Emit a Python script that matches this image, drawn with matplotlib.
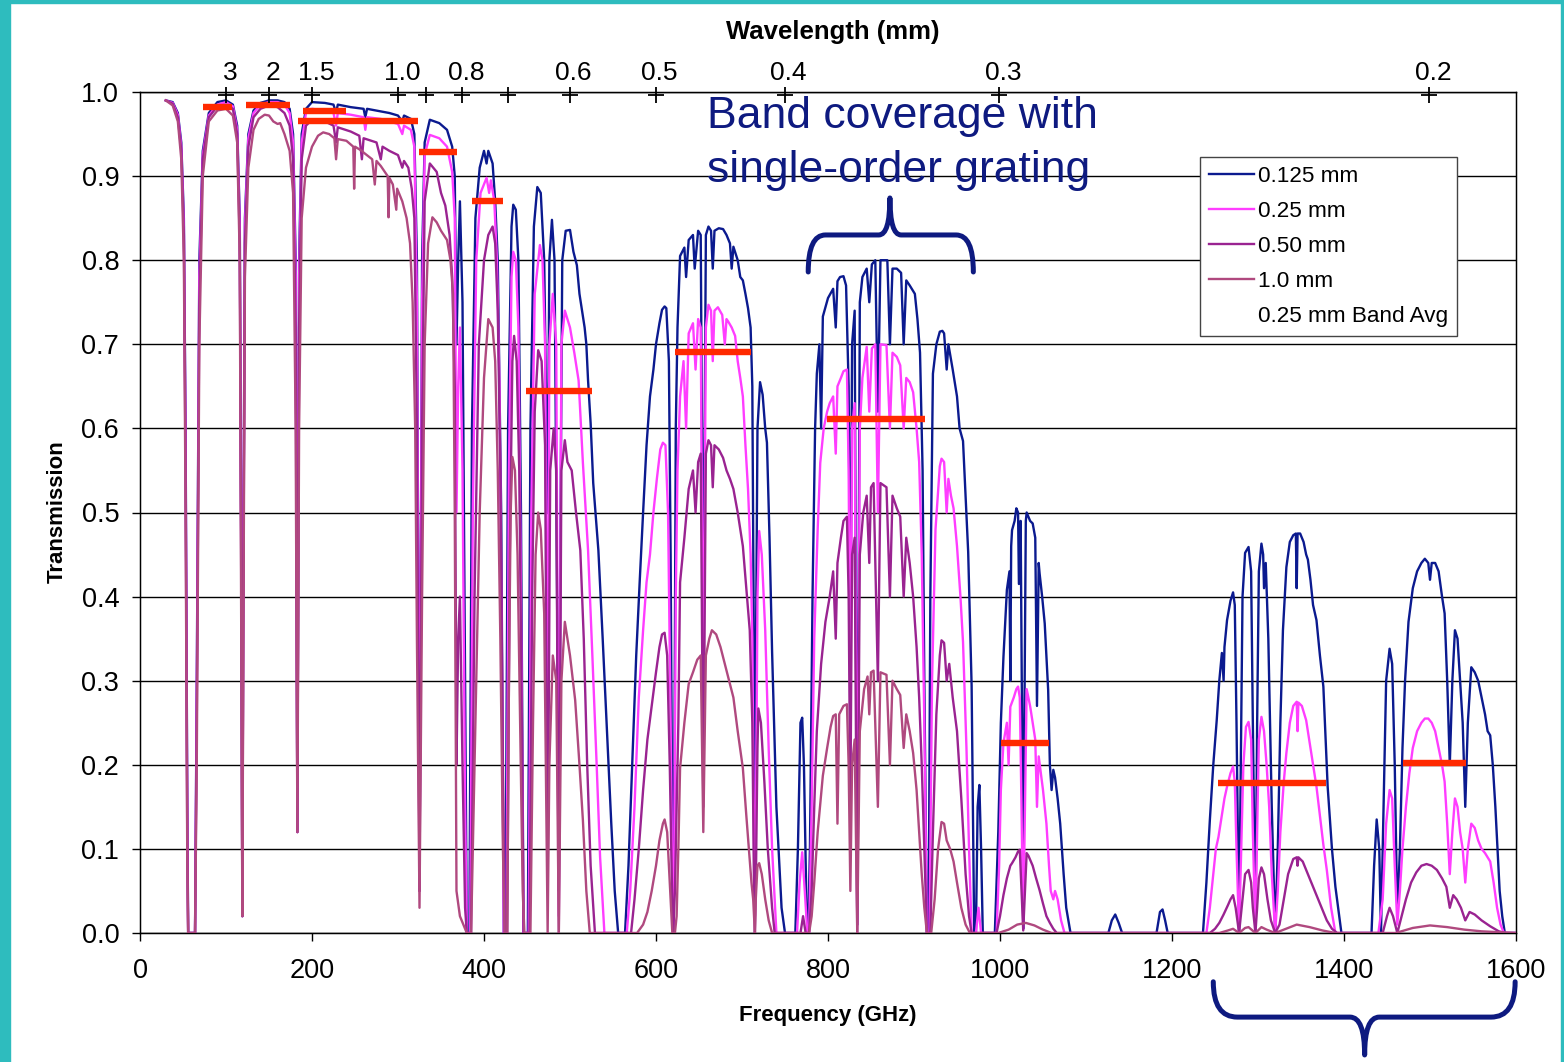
import numpy as np
import matplotlib
matplotlib.use('Agg')
import matplotlib.pyplot as plt
from matplotlib.path import Path
from matplotlib.patches import PathPatch, Rectangle
from matplotlib.lines import Line2D
from matplotlib.ticker import FormatStrFormatter
from matplotlib.transforms import ScaledTranslation

plt.rcParams['font.family'] = ['Liberation Sans', 'DejaVu Sans']

# ================================================
# transmission: (frequency GHz, transmission)

pwv_0125 = [
    (30, 0.99), (38, 0.988), (44, 0.975), (48, 0.94), (51, 0.85), (53, 0.6), (55, 0.15), (56, 0.0),
    (64, 0.0), (66, 0.3), (69, 0.8), (73, 0.93), (80, 0.975), (90, 0.988), (100, 0.99), (108, 0.985),
    (113, 0.96), (116, 0.85), (118, 0.4), (119, 0.02), (120, 0.4), (122, 0.85), (126, 0.95), (132, 0.978),
    (140, 0.987), (150, 0.99), (160, 0.99), (168, 0.988), (174, 0.98), (178, 0.95), (181, 0.8), (183, 0.12),
    (185, 0.8), (188, 0.95), (193, 0.98), (200, 0.988), (215, 0.987), (225, 0.985), (228, 0.975), (230, 0.985),
    (245, 0.982), (260, 0.98), (262, 0.97), (264, 0.98), (280, 0.977), (290, 0.975), (300, 0.972), (305, 0.965),
    (307, 0.972), (315, 0.968), (319, 0.95), (322, 0.8), (325, 0.05), (328, 0.8), (331, 0.94), (337, 0.967),
    (348, 0.963), (357, 0.955), (363, 0.935), (366, 0.9), (368, 0.7), (370, 0.8), (372, 0.87), (375, 0.75),
    (378, 0.3), (380, 0.0), (383, 0.0), (386, 0.6), (390, 0.85), (395, 0.91), (400, 0.93), (403, 0.915),
    (405, 0.93), (410, 0.915), (413, 0.87), (416, 0.8), (420, 0.5), (423, 0.0), (425, 0.0), (428, 0.6),
    (432, 0.84), (434, 0.866), (437, 0.86), (440, 0.8), (443, 0.5), (446, 0.0), (451, 0.0), (454, 0.6),
    (458, 0.84), (462, 0.887), (466, 0.88), (470, 0.8), (474, 0.5), (476, 0.8), (479, 0.848), (482, 0.8),
    (485, 0.4), (487, 0.05), (489, 0.5), (491, 0.8), (495, 0.835), (500, 0.836), (504, 0.81), (508, 0.794),
    (511, 0.76), (514, 0.74), (517, 0.72), (519, 0.70), (521, 0.657), (524, 0.606), (527, 0.535), (533, 0.455),
    (538, 0.35), (543, 0.24), (548, 0.13), (552, 0.05), (556, 0.0),
    (564, 0.0), (568, 0.08), (573, 0.22), (577, 0.33), (581, 0.417), (585, 0.5), (589, 0.58), (593, 0.638),
    (597, 0.67), (600, 0.70), (604, 0.725), (607, 0.741), (610, 0.745), (612, 0.743), (615, 0.68), (617, 0.45),
    (619, 0.1), (620, 0.0), (621, 0.1), (623, 0.6), (625, 0.72), (628, 0.805), (633, 0.815), (635, 0.78),
    (638, 0.824), (643, 0.83), (645, 0.79), (649, 0.835), (652, 0.83), (655, 0.34), (658, 0.83), (661, 0.84),
    (664, 0.835), (666, 0.79), (668, 0.835), (673, 0.838), (678, 0.837), (682, 0.83), (686, 0.82), (688, 0.79),
    (690, 0.816), (695, 0.8), (698, 0.78), (701, 0.776), (704, 0.76), (707, 0.743), (710, 0.72), (712, 0.65),
    (714, 0.3), (715, 0.05), (716, 0.3), (718, 0.6), (721, 0.655), (724, 0.64), (727, 0.6), (729, 0.583),
    (732, 0.47), (735, 0.334), (740, 0.15), (746, 0.03), (750, 0.0),
    (762, 0.0), (765, 0.1), (768, 0.25), (770, 0.256), (772, 0.2), (775, 0.03), (777, 0.0), (779, 0.1),
    (782, 0.4), (785, 0.6), (787, 0.665), (790, 0.7), (792, 0.6), (794, 0.733), (800, 0.755), (806, 0.766),
    (809, 0.72), (811, 0.775), (814, 0.78), (818, 0.781), (821, 0.77), (824, 0.65), (826, 0.3), (828, 0.7),
    (831, 0.74), (834, 0.01), (837, 0.75), (840, 0.78), (845, 0.79), (848, 0.75), (851, 0.795), (855, 0.8),
    (858, 0.62), (861, 0.8), (866, 0.8), (869, 0.8), (872, 0.7), (875, 0.79), (880, 0.79), (885, 0.785),
    (888, 0.7), (891, 0.776), (895, 0.77), (901, 0.76), (904, 0.73), (907, 0.69), (910, 0.55), (912, 0.3),
    (915, 0.0), (917, 0.0), (919, 0.4), (922, 0.665), (926, 0.70), (930, 0.715), (933, 0.716), (935, 0.713),
    (938, 0.67), (940, 0.7), (945, 0.67), (950, 0.638), (953, 0.6), (957, 0.585), (960, 0.52), (963, 0.453),
    (967, 0.294), (969, 0.1), (970, 0.0), (972, 0.0), (974, 0.15), (976, 0.176), (978, 0.1), (980, 0.0),
    (994, 0.0), (998, 0.12), (1001, 0.25), (1004, 0.328), (1008, 0.408), (1011, 0.43), (1012, 0.3), (1013, 0.46),
    (1014, 0.479), (1017, 0.49), (1019, 0.505), (1021, 0.5), (1022, 0.415), (1024, 0.49), (1026, 0.2), (1027, 0.005),
    (1028, 0.2), (1030, 0.49), (1031, 0.5), (1035, 0.49), (1038, 0.487), (1041, 0.47), (1043, 0.27), (1045, 0.44),
    (1046, 0.428), (1049, 0.4), (1052, 0.368), (1056, 0.289), (1058, 0.2), (1060, 0.17), (1062, 0.194), (1064, 0.185),
    (1067, 0.16), (1070, 0.13), (1074, 0.07), (1077, 0.03), (1082, 0.0),
    (1126, 0.0), (1130, 0.015), (1134, 0.022), (1138, 0.012), (1142, 0.0), (1182, 0.0), (1186, 0.025), (1189, 0.028),
    (1192, 0.015), (1195, 0.0),
    (1236, 0.0), (1240, 0.06), (1244, 0.134), (1248, 0.2), (1252, 0.253), (1255, 0.3), (1258, 0.333), (1260, 0.3),
    (1261, 0.34), (1264, 0.372), (1268, 0.395), (1271, 0.405), (1273, 0.39), (1275, 0.25), (1278, 0.0), (1280, 0.2),
    (1282, 0.4), (1285, 0.452), (1289, 0.459), (1292, 0.43), (1294, 0.25), (1297, 0.0), (1299, 0.25), (1301, 0.43),
    (1304, 0.463), (1306, 0.45), (1307, 0.41), (1309, 0.44), (1312, 0.35), (1316, 0.15), (1320, 0.0), (1323, 0.1),
    (1326, 0.25), (1329, 0.36), (1333, 0.435), (1337, 0.465), (1341, 0.473), (1344, 0.475), (1345, 0.41), (1346, 0.475),
    (1349, 0.475), (1353, 0.465), (1356, 0.45), (1358, 0.444), (1361, 0.42), (1364, 0.39), (1368, 0.372), (1372, 0.33),
    (1376, 0.293), (1381, 0.174), (1386, 0.1), (1390, 0.055), (1397, 0.0),
    (1432, 0.0), (1435, 0.08), (1438, 0.135), (1441, 0.1), (1443, 0.0), (1446, 0.15), (1449, 0.3), (1453, 0.338),
    (1456, 0.32), (1459, 0.2), (1462, 0.02), (1465, 0.1), (1468, 0.22), (1471, 0.3), (1475, 0.37), (1480, 0.41),
    (1485, 0.43), (1490, 0.44), (1494, 0.445), (1498, 0.44), (1500, 0.42), (1502, 0.44), (1506, 0.44), (1510, 0.43),
    (1514, 0.4), (1517, 0.38), (1520, 0.3), (1523, 0.2), (1526, 0.3), (1529, 0.36), (1532, 0.35), (1535, 0.3),
    (1538, 0.25), (1541, 0.15), (1544, 0.25), (1548, 0.316), (1552, 0.31), (1556, 0.3), (1560, 0.28), (1564, 0.26),
    (1567, 0.24), (1570, 0.235), (1573, 0.2), (1576, 0.15), (1579, 0.09), (1581, 0.05), (1584, 0.02), (1587, 0.0),
    (1600, 0.0),
]

pwv_025 = [
    (30, 0.99), (38, 0.987), (44, 0.973), (48, 0.935), (51, 0.84), (53, 0.58), (55, 0.13), (56, 0.0),
    (64, 0.0), (66, 0.28), (69, 0.78), (73, 0.925), (80, 0.972), (90, 0.985), (100, 0.988), (108, 0.983),
    (113, 0.955), (116, 0.84), (118, 0.38), (119, 0.02), (120, 0.38), (122, 0.84), (126, 0.945), (132, 0.975),
    (140, 0.985), (150, 0.988), (160, 0.988), (168, 0.985), (174, 0.975), (178, 0.94), (181, 0.78), (183, 0.12),
    (185, 0.78), (188, 0.94), (193, 0.975), (200, 0.98), (215, 0.978), (225, 0.975), (228, 0.96), (230, 0.975),
    (245, 0.973), (260, 0.97), (262, 0.955), (264, 0.97), (280, 0.968), (290, 0.965), (300, 0.962), (305, 0.95),
    (307, 0.96), (315, 0.955), (319, 0.935), (322, 0.75), (325, 0.05), (328, 0.75), (331, 0.925), (337, 0.949),
    (348, 0.945), (357, 0.935), (363, 0.905), (366, 0.85), (368, 0.5), (370, 0.65), (372, 0.72), (375, 0.55),
    (378, 0.15), (380, 0.0), (384, 0.0), (387, 0.5), (391, 0.8), (396, 0.88), (403, 0.898), (406, 0.88),
    (408, 0.895), (412, 0.87), (415, 0.8), (418, 0.65), (421, 0.3), (423, 0.0), (426, 0.0), (429, 0.55),
    (432, 0.78), (434, 0.81), (437, 0.8), (440, 0.72), (443, 0.4), (446, 0.0), (452, 0.0), (455, 0.5),
    (459, 0.76), (465, 0.818), (468, 0.8), (471, 0.7), (474, 0.2), (476, 0.7), (480, 0.76), (484, 0.7),
    (487, 0.02), (490, 0.7), (494, 0.74), (500, 0.72), (505, 0.69), (510, 0.657), (515, 0.559), (521, 0.455),
    (526, 0.33), (531, 0.2), (535, 0.09), (540, 0.0),
    (566, 0.0), (570, 0.05), (575, 0.15), (580, 0.28), (585, 0.36), (589, 0.417), (593, 0.45), (597, 0.5),
    (601, 0.54), (605, 0.575), (608, 0.583), (611, 0.58), (614, 0.5), (617, 0.25), (619, 0.05), (620, 0.0),
    (621, 0.05), (623, 0.4), (625, 0.55), (628, 0.638), (632, 0.68), (635, 0.6), (638, 0.713), (643, 0.725),
    (646, 0.67), (649, 0.73), (652, 0.72), (655, 0.25), (658, 0.72), (661, 0.747), (664, 0.74), (666, 0.68),
    (668, 0.74), (672, 0.744), (677, 0.735), (680, 0.7), (682, 0.73), (684, 0.727), (688, 0.72), (692, 0.71),
    (695, 0.68), (698, 0.66), (701, 0.638), (704, 0.58), (707, 0.528), (710, 0.45), (712, 0.35), (714, 0.1),
    (715, 0.02), (716, 0.1), (718, 0.4), (720, 0.478), (723, 0.45), (727, 0.36), (731, 0.22), (735, 0.1),
    (740, 0.0),
    (764, 0.0), (767, 0.06), (770, 0.096), (773, 0.05), (776, 0.0), (778, 0.0), (781, 0.15), (784, 0.35),
    (788, 0.48), (791, 0.559), (795, 0.6), (799, 0.62), (802, 0.63), (806, 0.638), (809, 0.57), (811, 0.65),
    (815, 0.66), (818, 0.668), (822, 0.67), (824, 0.55), (826, 0.25), (828, 0.6), (831, 0.63), (834, 0.01),
    (837, 0.6), (840, 0.66), (845, 0.697), (848, 0.62), (851, 0.695), (855, 0.7), (858, 0.5), (861, 0.7),
    (868, 0.699), (872, 0.6), (875, 0.69), (880, 0.685), (884, 0.675), (888, 0.6), (891, 0.66), (895, 0.655),
    (899, 0.643), (903, 0.6), (906, 0.56), (909, 0.45), (912, 0.25), (915, 0.0), (918, 0.0), (921, 0.3),
    (925, 0.48), (930, 0.555), (932, 0.564), (935, 0.56), (938, 0.5), (940, 0.54), (943, 0.52), (946, 0.505),
    (950, 0.46), (954, 0.4), (957, 0.346), (961, 0.22), (964, 0.1), (967, 0.0), (972, 0.0), (975, 0.03),
    (978, 0.0),
    (996, 0.0), (999, 0.08), (1001, 0.17), (1004, 0.226), (1008, 0.25), (1010, 0.2), (1012, 0.269), (1016, 0.28),
    (1019, 0.29), (1021, 0.293), (1023, 0.28), (1025, 0.15), (1027, 0.005), (1029, 0.15), (1031, 0.29), (1035, 0.27),
    (1038, 0.25), (1041, 0.23), (1043, 0.15), (1045, 0.21), (1046, 0.202), (1050, 0.17), (1054, 0.13), (1057, 0.08),
    (1059, 0.05), (1062, 0.04), (1064, 0.05), (1067, 0.04), (1071, 0.015), (1075, 0.0),
    (1240, 0.0), (1244, 0.03), (1248, 0.07), (1251, 0.1), (1254, 0.114), (1258, 0.14), (1261, 0.16), (1264, 0.174),
    (1268, 0.19), (1271, 0.198), (1273, 0.18), (1275, 0.1), (1278, 0.0), (1280, 0.08), (1283, 0.2), (1286, 0.245),
    (1289, 0.251), (1292, 0.23), (1294, 0.12), (1297, 0.0), (1299, 0.12), (1301, 0.23), (1304, 0.257), (1307, 0.24),
    (1310, 0.2), (1313, 0.15), (1316, 0.07), (1320, 0.0), (1323, 0.05), (1326, 0.12), (1330, 0.18), (1333, 0.214),
    (1337, 0.25), (1341, 0.27), (1345, 0.275), (1346, 0.24), (1347, 0.274), (1351, 0.27), (1356, 0.253), (1361, 0.22),
    (1364, 0.2), (1368, 0.174), (1372, 0.14), (1376, 0.105), (1380, 0.075), (1385, 0.03), (1390, 0.0),
    (1440, 0.0), (1445, 0.04), (1449, 0.13), (1453, 0.17), (1456, 0.16), (1459, 0.08), (1462, 0.01), (1465, 0.05),
    (1468, 0.1), (1472, 0.15), (1476, 0.19), (1480, 0.22), (1485, 0.24), (1490, 0.25), (1494, 0.255), (1498, 0.255),
    (1502, 0.25), (1506, 0.24), (1510, 0.22), (1514, 0.2), (1517, 0.18), (1520, 0.13), (1523, 0.07), (1526, 0.12),
    (1529, 0.16), (1532, 0.15), (1535, 0.12), (1538, 0.1), (1541, 0.06), (1544, 0.1), (1548, 0.13), (1552, 0.125),
    (1556, 0.11), (1560, 0.1), (1564, 0.095), (1567, 0.09), (1570, 0.085), (1574, 0.06), (1578, 0.03), (1582, 0.01),
    (1586, 0.0), (1600, 0.0),
]

pwv_050 = [
    (30, 0.99), (38, 0.986), (44, 0.97), (48, 0.93), (51, 0.83), (53, 0.55), (55, 0.1), (56, 0.0),
    (64, 0.0), (66, 0.25), (69, 0.75), (73, 0.92), (80, 0.97), (90, 0.983), (100, 0.985), (108, 0.98),
    (113, 0.95), (116, 0.82), (118, 0.35), (119, 0.02), (120, 0.35), (122, 0.82), (126, 0.935), (132, 0.97),
    (140, 0.98), (150, 0.984), (160, 0.982), (168, 0.975), (174, 0.96), (178, 0.92), (181, 0.72), (183, 0.12),
    (185, 0.72), (188, 0.92), (193, 0.96), (200, 0.967), (215, 0.965), (225, 0.96), (228, 0.94), (230, 0.958),
    (245, 0.953), (255, 0.948), (258, 0.92), (260, 0.945), (275, 0.94), (280, 0.92), (282, 0.935), (290, 0.93),
    (300, 0.925), (305, 0.91), (307, 0.918), (312, 0.91), (316, 0.885), (319, 0.85), (322, 0.6), (325, 0.05),
    (328, 0.6), (331, 0.87), (337, 0.915), (345, 0.905), (350, 0.88), (355, 0.865), (360, 0.83), (363, 0.78),
    (366, 0.65), (368, 0.2), (370, 0.35), (372, 0.4), (375, 0.2), (378, 0.03), (380, 0.0), (385, 0.0),
    (389, 0.4), (394, 0.7), (400, 0.8), (405, 0.83), (410, 0.84), (413, 0.82), (416, 0.74), (419, 0.55),
    (422, 0.2), (424, 0.0), (427, 0.0), (430, 0.45), (433, 0.68), (435, 0.71), (438, 0.68), (441, 0.55),
    (444, 0.25), (446, 0.0), (453, 0.0), (456, 0.4), (459, 0.62), (463, 0.693), (467, 0.68), (471, 0.58),
    (474, 0.05), (477, 0.55), (481, 0.6), (484, 0.55), (487, 0.0), (490, 0.55), (494, 0.586), (497, 0.56),
    (502, 0.55), (507, 0.5), (512, 0.455), (516, 0.35), (520, 0.2), (524, 0.08), (529, 0.0),
    (571, 0.0), (575, 0.04), (580, 0.1), (585, 0.17), (590, 0.23), (595, 0.27), (600, 0.31), (604, 0.34),
    (607, 0.355), (610, 0.357), (613, 0.33), (616, 0.2), (619, 0.03), (620, 0.0), (622, 0.05), (624, 0.15),
    (626, 0.25), (628, 0.417), (633, 0.47), (638, 0.528), (643, 0.55), (646, 0.5), (649, 0.56), (652, 0.57),
    (655, 0.15), (658, 0.57), (661, 0.586), (664, 0.58), (666, 0.53), (668, 0.58), (673, 0.575), (678, 0.565),
    (682, 0.55), (686, 0.54), (690, 0.528), (695, 0.5), (698, 0.48), (701, 0.46), (705, 0.41), (709, 0.36),
    (712, 0.25), (714, 0.05), (715, 0.0), (716, 0.05), (718, 0.22), (719, 0.267), (722, 0.25), (726, 0.18),
    (730, 0.1), (735, 0.03), (738, 0.0),
    (768, 0.0), (771, 0.02), (774, 0.0), (778, 0.0), (781, 0.05), (784, 0.15), (787, 0.24), (792, 0.32),
    (797, 0.37), (802, 0.4), (806, 0.43), (809, 0.35), (811, 0.44), (815, 0.47), (818, 0.49), (822, 0.495),
    (824, 0.4), (826, 0.15), (828, 0.45), (831, 0.47), (834, 0.0), (837, 0.45), (841, 0.5), (845, 0.52),
    (848, 0.44), (850, 0.53), (853, 0.535), (858, 0.3), (861, 0.535), (868, 0.53), (872, 0.4), (875, 0.52),
    (880, 0.505), (884, 0.495), (888, 0.4), (891, 0.47), (895, 0.44), (899, 0.4), (903, 0.34), (906, 0.28),
    (909, 0.2), (912, 0.1), (915, 0.0), (919, 0.0), (922, 0.12), (926, 0.26), (930, 0.33), (932, 0.348),
    (935, 0.345), (938, 0.3), (941, 0.32), (945, 0.28), (950, 0.24), (955, 0.16), (960, 0.07), (964, 0.02),
    (967, 0.0),
    (996, 0.0), (1000, 0.02), (1004, 0.045), (1008, 0.065), (1012, 0.08), (1014, 0.083), (1018, 0.09), (1021, 0.097),
    (1023, 0.099), (1025, 0.05), (1027, 0.003), (1029, 0.05), (1031, 0.095), (1033, 0.092), (1038, 0.08), (1042, 0.065),
    (1046, 0.051), (1050, 0.035), (1054, 0.02), (1058, 0.012), (1062, 0.005), (1066, 0.0),
    (1244, 0.0), (1250, 0.005), (1255, 0.012), (1260, 0.022), (1265, 0.033), (1268, 0.04), (1271, 0.045), (1274, 0.03),
    (1278, 0.0), (1281, 0.03), (1285, 0.07), (1289, 0.075), (1292, 0.06), (1294, 0.03), (1297, 0.0), (1299, 0.03),
    (1301, 0.065), (1304, 0.078), (1307, 0.07), (1311, 0.04), (1315, 0.015), (1320, 0.0), (1325, 0.01), (1330, 0.04),
    (1335, 0.07), (1341, 0.088), (1345, 0.09), (1346, 0.08), (1347, 0.09), (1352, 0.085), (1358, 0.07), (1364, 0.055),
    (1368, 0.045), (1374, 0.03), (1380, 0.015), (1386, 0.005), (1392, 0.0),
    (1445, 0.0), (1450, 0.02), (1453, 0.03), (1457, 0.02), (1462, 0.0), (1467, 0.02), (1472, 0.04), (1478, 0.06),
    (1484, 0.072), (1490, 0.08), (1496, 0.082), (1502, 0.08), (1508, 0.075), (1514, 0.065), (1519, 0.055), (1523, 0.03),
    (1527, 0.045), (1531, 0.04), (1536, 0.03), (1541, 0.015), (1546, 0.025), (1552, 0.022), (1560, 0.015), (1570, 0.008),
    (1580, 0.002), (1588, 0.0), (1600, 0.0),
]

pwv_100 = [
    (30, 0.99), (38, 0.984), (44, 0.965), (48, 0.92), (51, 0.8), (53, 0.5), (55, 0.08), (56, 0.0),
    (64, 0.0), (66, 0.2), (69, 0.7), (73, 0.9), (80, 0.965), (90, 0.978), (100, 0.98), (108, 0.972),
    (113, 0.94), (116, 0.8), (118, 0.3), (119, 0.02), (120, 0.3), (122, 0.78), (126, 0.91), (132, 0.955),
    (138, 0.968), (145, 0.973), (150, 0.972), (155, 0.965), (160, 0.962), (163, 0.963), (168, 0.95), (174, 0.93),
    (178, 0.88), (181, 0.6), (183, 0.12), (185, 0.6), (188, 0.85), (193, 0.91), (200, 0.935), (207, 0.948),
    (213, 0.952), (220, 0.95), (226, 0.945), (228, 0.92), (230, 0.944), (240, 0.942), (248, 0.935), (249, 0.885),
    (250, 0.935), (258, 0.93), (260, 0.928), (270, 0.92), (273, 0.89), (275, 0.918), (280, 0.912), (288, 0.9),
    (289, 0.851), (290, 0.898), (294, 0.89), (298, 0.86), (299, 0.885), (305, 0.87), (310, 0.85), (314, 0.82),
    (317, 0.75), (320, 0.6), (322, 0.35), (325, 0.03), (328, 0.4), (331, 0.7), (335, 0.82), (340, 0.851),
    (345, 0.845), (350, 0.835), (357, 0.824), (361, 0.8), (364, 0.76), (366, 0.5), (368, 0.05), (372, 0.02),
    (380, 0.0), (385, 0.0), (390, 0.25), (395, 0.5), (400, 0.66), (405, 0.73), (410, 0.72), (413, 0.68),
    (416, 0.55), (419, 0.35), (422, 0.1), (424, 0.0), (427, 0.0), (429, 0.3), (431, 0.5), (433, 0.566),
    (436, 0.55), (439, 0.45), (442, 0.25), (445, 0.05), (447, 0.0), (454, 0.0), (457, 0.25), (460, 0.45),
    (463, 0.5), (466, 0.48), (470, 0.38), (473, 0.1), (474, 0.0), (476, 0.2), (480, 0.33), (484, 0.3),
    (487, 0.0), (490, 0.3), (494, 0.37), (500, 0.33), (506, 0.277), (511, 0.2), (515, 0.134), (519, 0.05),
    (523, 0.0),
    (578, 0.0), (585, 0.01), (590, 0.025), (595, 0.05), (600, 0.08), (604, 0.11), (608, 0.13), (610, 0.135),
    (613, 0.12), (616, 0.06), (619, 0.0), (622, 0.0), (624, 0.02), (626, 0.1), (628, 0.196), (633, 0.25),
    (638, 0.296), (643, 0.31), (648, 0.325), (652, 0.33), (655, 0.12), (658, 0.33), (662, 0.35), (665, 0.36),
    (670, 0.355), (675, 0.34), (680, 0.32), (685, 0.3), (690, 0.28), (695, 0.24), (701, 0.196), (705, 0.14),
    (708, 0.1), (711, 0.06), (713, 0.04), (715, 0.0), (716, 0.04), (718, 0.08), (720, 0.083), (723, 0.07),
    (727, 0.04), (731, 0.015), (735, 0.0),
    (778, 0.0), (781, 0.02), (784, 0.06), (788, 0.12), (794, 0.187), (799, 0.22), (803, 0.245), (806, 0.258),
    (809, 0.26), (811, 0.13), (813, 0.26), (818, 0.27), (822, 0.272), (824, 0.2), (826, 0.05), (828, 0.2),
    (831, 0.23), (834, 0.0), (837, 0.24), (842, 0.29), (846, 0.305), (848, 0.26), (850, 0.31), (853, 0.312),
    (858, 0.15), (861, 0.31), (868, 0.307), (872, 0.2), (875, 0.3), (880, 0.29), (884, 0.283), (888, 0.22),
    (891, 0.26), (895, 0.24), (899, 0.214), (903, 0.17), (906, 0.12), (909, 0.07), (912, 0.03), (915, 0.0),
    (920, 0.0), (924, 0.04), (928, 0.1), (932, 0.132), (935, 0.13), (938, 0.11), (942, 0.1), (946, 0.085),
    (950, 0.06), (955, 0.03), (960, 0.01), (965, 0.0),
    (998, 0.0), (1010, 0.004), (1020, 0.01), (1030, 0.012), (1040, 0.009), (1050, 0.004), (1060, 0.0),
    (1255, 0.0), (1265, 0.003), (1271, 0.005), (1278, 0.0), (1285, 0.006), (1289, 0.007), (1297, 0.0), (1304, 0.007),
    (1310, 0.004), (1320, 0.0), (1330, 0.004), (1345, 0.01), (1360, 0.007), (1375, 0.003), (1390, 0.0),
    (1460, 0.0), (1480, 0.006), (1500, 0.009), (1520, 0.007), (1540, 0.004), (1560, 0.002), (1600, 0.0),
]

# 0.25 mm band averages: (start GHz, end GHz, mean transmission)
band_lo = [73, 123, 190, 184, 324, 386, 449, 622, 799, 1001, 1253, 1469]
band_hi = [107, 174, 240, 323, 369, 422, 526, 710, 913, 1057, 1379, 1542]
band_avg = [0.982, 0.985, 0.977, 0.966, 0.929, 0.870, 0.644, 0.691, 0.611, 0.226, 0.178, 0.202]

# wavelength axis (mm) on top
wl_ticks = [3, 2, 1.5, 1.0, 0.9, 0.8, 0.7, 0.6, 0.5, 0.4, 0.3, 0.2]
wl_labels = ['3', '2', '1.5', '1.0', '', '0.8', '', '0.6', '0.5', '0.4', '0.3', '0.2']

series = [('0.125 mm', pwv_0125, '#0B1A8F'),
          ('0.25 mm', pwv_025, '#FF3DFF'),
          ('0.50 mm', pwv_050, '#9A2391'),
          ('1.0 mm', pwv_100, '#B0497F')]

navy = '#0E1A80'

# ================================================

def brace(ax, x0, x1, xm, y_end, y_mid, y_tip, rx_end, rx_tip):
    """ Curly brace from x0 to x1 with its point at xm. """
    verts = [(x0, y_end), (x0, y_mid), (x0 + rx_end, y_mid),
             (xm - rx_tip, y_mid), (xm, y_mid), (xm, y_tip),
             (xm, y_mid), (xm + rx_tip, y_mid),
             (x1 - rx_end, y_mid), (x1, y_mid), (x1, y_end)]
    codes = [Path.MOVETO, Path.CURVE3, Path.CURVE3, Path.LINETO, Path.CURVE3, Path.CURVE3,
             Path.CURVE3, Path.CURVE3, Path.LINETO, Path.CURVE3, Path.CURVE3]
    p = PathPatch(Path(verts, codes), fill=False, edgecolor=navy, lw=3.6,
                  capstyle='round', joinstyle='round', clip_on=False, zorder=6)
    ax.add_patch(p)


fig = plt.figure(figsize=(15.64, 10.62), dpi=100)

# teal slide border
fig.patches.append(Rectangle((0, 0), 10/1564, 1, transform=fig.transFigure, color='#2EBCBE', zorder=0))
fig.patches.append(Rectangle((1561/1564, 0), 3/1564, 1, transform=fig.transFigure, color='#2EBCBE', zorder=0))
fig.patches.append(Rectangle((0, 1 - 3/1062), 1, 3/1062, transform=fig.transFigure, color='#2EBCBE', zorder=0))

ax = fig.add_axes([140/1564, 1 - 933/1062, 1376/1564, 841/1062])
ax.set_xlim(0, 1600)
ax.set_ylim(0, 1.0)

for name, pts, col in series:
    arr = np.array(pts)
    ax.plot(arr[:, 0], arr[:, 1], color=col, lw=1.7, label=name, zorder=3)

ax.hlines(band_avg, band_lo, band_hi, colors='#FF2A00', lw=4.6, zorder=5)

ax.set_xticks(np.arange(0, 1601, 200))
ax.set_yticks(np.arange(0, 1.01, 0.1))
ax.yaxis.set_major_formatter(FormatStrFormatter('%.1f'))
ax.tick_params(axis='both', direction='out', length=6, width=1, labelsize=19.5, color='black')
ax.tick_params(axis='x', pad=12)
ax.tick_params(axis='y', pad=9)
ax.yaxis.grid(True, color='black', lw=1)
ax.set_axisbelow(True)
for s in ax.spines.values():
    s.set_color('black')
    s.set_linewidth(1)

# top wavelength axis
c = 299.79
wl_freq = [c / w for w in wl_ticks]
ax_top = ax.twiny()
ax_top.set_xlim(0, 1600)
ax_top.set_xticks(wl_freq)
ax_top.set_xticklabels(wl_labels)
ax_top.tick_params(axis='x', length=0, pad=5, labelsize=19)
shift = ScaledTranslation(4/100, 0, fig.dpi_scale_trans)
for lab in ax_top.get_xticklabels():
    lab.set_transform(lab.get_transform() + shift)
ax.plot(wl_freq, [0.996] * len(wl_freq), linestyle='none', marker='+', color='black',
        markersize=11, mew=1.3, clip_on=False, zorder=7)

fig.text(833/1564, 1 - 32/1062, 'Wavelength (mm)', ha='center', va='center',
         fontsize=18.5, fontweight='bold')
fig.text(828/1564, 1 - 1015/1062, 'Frequency (GHz)', ha='center', va='center',
         fontsize=16, fontweight='bold')
fig.text(57/1564, 1 - 512/1062, 'Transmission', ha='center', va='center',
         rotation=90, fontsize=16, fontweight='bold')

# annotation
ax.text(659, 0.995, 'Band coverage with\nsingle-order grating', ha='left', va='top',
        fontsize=32, color=navy, linespacing=1.4, zorder=6)
brace(ax, 777, 969, 872, 0.786, 0.830, 0.874, 20, 13)
brace(ax, 1248, 1599, 1424, -0.058, -0.100, -0.145, 28, 17)

handles, labels = ax.get_legend_handles_labels()
handles.append(Line2D([], [], color='none'))
labels.append('0.25 mm Band Avg')
leg = ax.legend(handles, labels, loc='upper left', bbox_to_anchor=(0.770, 0.923),
                fontsize=16.2, frameon=True, fancybox=False, framealpha=1,
                edgecolor='#444444', borderpad=0.4, labelspacing=0.62,
                handlelength=2.0, handletextpad=0.2, borderaxespad=0)
leg.get_frame().set_linewidth(1)
leg.set_zorder(8)

plt.savefig('out.png', dpi=100)
